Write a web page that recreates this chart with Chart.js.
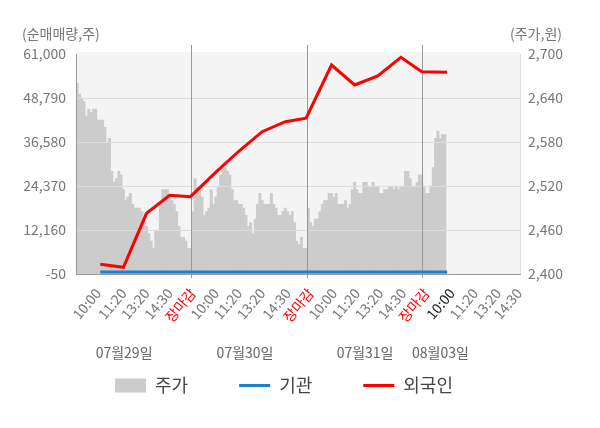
<!DOCTYPE html>
<html><head><meta charset="utf-8">
<style>html,body{margin:0;padding:0;background:#fff;}</style>
<script src="https://cdn.jsdelivr.net/npm/chart.js@4.4.1/dist/chart.umd.min.js"></script>
</head><body>
<canvas id="c" width="600" height="428" style="width:600px;height:428px;display:block"></canvas>
<script>
// ---- data ----
const DATES = ['07월29일', '07월30일', '07월31일', '08월03일'];
const TICK_LABELS = ['10:00','11:20','13:20','14:30','장마감',
                     '10:00','11:20','13:20','14:30','장마감',
                     '10:00','11:20','13:20','14:30','장마감',
                     '10:00','11:20','13:20','14:30'];
// 주가 (won), one value per time slot
const PRICE_0729 = [2660,2645,2640,2635,2615,2625,2620,2625,2625,2610,
                    2610,2610,2600,2580,2585,2540,2525,2530,2540,2535,
                    2515,2500,2505,2510,2495,2490,2490,2490,2485,2475,
                    2465,2455,2445,2435,2460,2460,2495,2515,2515,2515,
                    2505,2500,2495,2485,2465,2450,2450,2445,2435,2435];
const PRICE_0730 = [2485,2530,2520,2515,2505,2480,2485,2490,2515,2495,
                    2505,2520,2535,2545,2545,2540,2535,2515,2500,2500,
                    2495,2495,2490,2480,2465,2470,2455,2475,2495,2510,
                    2500,2495,2495,2495,2510,2495,2490,2480,2480,2485,
                    2490,2485,2480,2485,2470,2445,2440,2450,2435,2435];
const PRICE_0731 = [2490,2470,2465,2475,2475,2485,2495,2500,2500,2510,
                    2510,2505,2510,2495,2495,2495,2500,2490,2495,2515,
                    2525,2515,2510,2510,2525,2525,2520,2520,2525,2520,
                    2520,2510,2510,2515,2515,2520,2520,2515,2520,2515,
                    2520,2520,2540,2540,2530,2520,2520,2525,2535,2535];
const PRICE_0803 = [2520,2510,2510,2520,2545,2585,2595,2585,2590,2590];
// 순매매량 (shares, cumulative) at 10:00, 11:20, 13:20, 14:30, close of each day
const FOREIGN     = [2640,1810,16790,21790,21400, 28200,34080,39440,42210,43185,
                     57950,52400,54900,60085,56090, 55920];
const INSTITUTION = [520,510,500,500,490, 500,510,500,500,490,
                     500,510,500,500,500, 500];

// ---- slot layout of the time axis ----
const SLOTS_PER_DAY = 50;
const TOTAL_SLOTS = 192;
const FLOW_SLOTS = [10, 20, 30, 40, 49];
const TICK_SLOTS = [9,20,30,40,50,60,70,80,91,101,111,121,131,141,151,162,172,182,191];
const DAY_BREAKS = [50, 100, 150];
const DATE_SLOTS = [20.3, 72.6, 124.5, 157.1];
const CURRENT_TICK = 15;

const labels = Array.from({length: TOTAL_SLOTS}, () => '');
TICK_SLOTS.forEach((s, k) => { labels[s] = TICK_LABELS[k]; });

const priceSeries = Array(TOTAL_SLOTS).fill(null);
[PRICE_0729, PRICE_0730, PRICE_0731, PRICE_0803].forEach((arr, d) => {
  arr.forEach((v, j) => { priceSeries[d * SLOTS_PER_DAY + j] = v; });
});
function flowSeries(vals) {
  const out = Array(TOTAL_SLOTS).fill(null);
  vals.forEach((v, k) => {
    out[Math.floor(k / 5) * SLOTS_PER_DAY + FLOW_SLOTS[k % 5]] = v;
  });
  return out;
}

Chart.defaults.font.family = '"Noto Sans CJK KR", "Noto Sans", sans-serif';

const decor = {
  id: 'decor',
  beforeDraw(chart) {
    const {ctx, chartArea: a} = chart;
    ctx.save();
    ctx.fillStyle = '#f4f4f4';
    ctx.fillRect(a.left, a.top - 2, a.right - a.left, a.bottom - a.top + 2);
    ctx.restore();
  },
  afterDatasetDraw(chart, args) {
    if (args.index === 0) {
      chart.scales.y.drawGrid(chart.chartArea);
      chart.scales.x.drawGrid(chart.chartArea);
      chart.scales.y.drawBorder();
      chart.scales.x.drawBorder();
    }
  },
  afterDraw(chart) {
    const {ctx, chartArea: a} = chart;
    const xs = chart.scales.x;
    ctx.save();
    ctx.strokeStyle = '#999';
    ctx.lineWidth = 1;
    DAY_BREAKS.forEach(s => {
      const px = Math.round(xs.getPixelForValue(s - 0.5) - 0.5) + 0.5;
      ctx.beginPath();
      ctx.moveTo(px, a.top - 9);
      ctx.lineTo(px, a.top);
      ctx.stroke();
    });
    ctx.font = '14px "Noto Sans CJK KR", "Noto Sans", sans-serif';
    ctx.fillStyle = '#777';
    ctx.textBaseline = 'middle';
    ctx.textAlign = 'left';
    ctx.fillText('(순매매량,주)', 22, 34);
    ctx.textAlign = 'right';
    ctx.fillText('(주가,원)', 562, 34);
    ctx.textAlign = 'center';
    ctx.fillStyle = '#666';
    DATES.forEach((d, i) => {
      ctx.fillText(d, xs.getPixelForValue(DATE_SLOTS[i]), 353);
    });
    ctx.restore();
  }
};

new Chart(document.getElementById('c'), {
  type: 'bar',
  data: {
    labels: labels,
    datasets: [
      {type: 'bar', label: '주가', data: priceSeries, yAxisID: 'y1',
       backgroundColor: '#cccccc', borderColor: '#cccccc', borderWidth: 0,
       barPercentage: 1, categoryPercentage: 1, order: 3},
      {type: 'line', label: '기관', data: flowSeries(INSTITUTION), yAxisID: 'y',
       borderColor: '#1a80d0', borderWidth: 3, pointRadius: 0, spanGaps: true,
       tension: 0, order: 2},
      {type: 'line', label: '외국인', data: flowSeries(FOREIGN), yAxisID: 'y',
       borderColor: '#ff0000', borderWidth: 3, pointRadius: 0, spanGaps: true,
       tension: 0, order: 1}
    ]
  },
  options: {
    responsive: false,
    animation: false,
    layout: {padding: {top: 54, left: 0, right: 32, bottom: 23.5}},
    plugins: {
      tooltip: {enabled: false},
      legend: {
        position: 'bottom',
        labels: {
          usePointStyle: true, pointStyleWidth: 31, boxHeight: 14, padding: 51,
          color: '#444', font: {size: 18},
          sort: (a, b) => a.datasetIndex - b.datasetIndex,
          generateLabels(chart) {
            const items = Chart.defaults.plugins.legend.labels.generateLabels(chart);
            items.forEach(it => {
              const ds = chart.data.datasets[it.datasetIndex];
              if (ds.type === 'bar') {
                it.pointStyle = 'rect'; it.fillStyle = ds.backgroundColor;
                it.strokeStyle = ds.backgroundColor; it.lineWidth = 0;
              } else {
                it.pointStyle = 'line'; it.strokeStyle = ds.borderColor; it.lineWidth = 3;
              }
            });
            return items;
          }
        }
      }
    },
    scales: {
      x: {
        type: 'category', offset: true,
        grid: {offset: true, tickLength: 4, lineWidth: 1,
               color: c => DAY_BREAKS.includes(c.index) ? '#999999' : 'rgba(0,0,0,0)'},
        border: {color: '#999999'},
        ticks: {autoSkip: false, minRotation: 50, maxRotation: 50, padding: 7,
                font: {size: 14},
                color: c => {
                  const lab = labels[c.index];
                  if (lab === '장마감') return '#ff0000';
                  if (c.index === TICK_SLOTS[CURRENT_TICK]) return '#222222';
                  return '#777777';
                }},
        afterFit(s) { s.height = 51.5; }
      },
      y: {
        position: 'left', min: -50, max: 61000,
        ticks: {stepSize: 12210, padding: 10, color: '#777', font: {size: 14},
                callback: v => Number(v).toLocaleString('en-US')},
        grid: {drawTicks: false,
               color: c => (c.tick && c.tick.value === 61000) ? 'rgba(0,0,0,0)' : '#dddddd'},
        border: {color: '#999999'},
        afterFit(s) { s.width = 76; }
      },
      y1: {
        position: 'right', min: 2400, max: 2700,
        ticks: {stepSize: 60, padding: 8, color: '#777', font: {size: 14},
                callback: v => Number(v).toLocaleString('en-US')},
        grid: {display: false, drawTicks: false},
        border: {color: '#dddddd'},
        afterFit(s) { s.width = 48; }
      }
    }
  },
  plugins: [decor]
});
</script>
</body></html>
